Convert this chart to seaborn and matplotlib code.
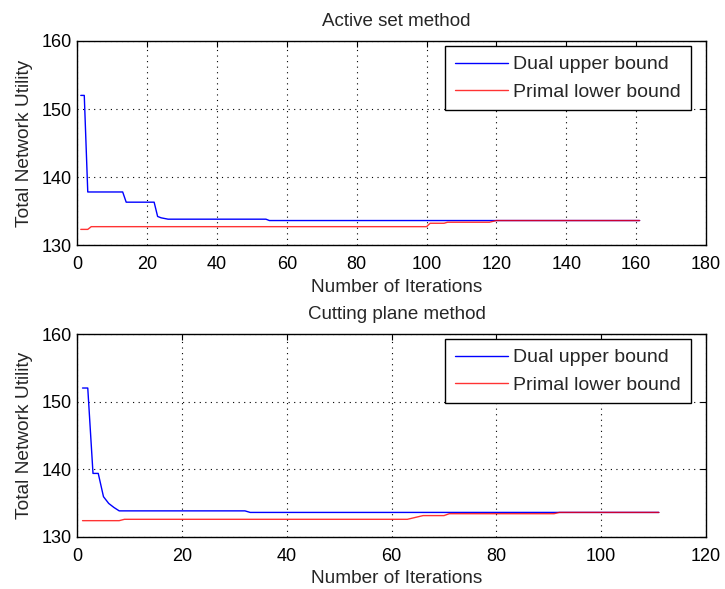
import matplotlib
matplotlib.use("Agg")
import matplotlib.pyplot as plt
import seaborn as sns

# ---------------- data (vertices of the curves) ----------------
as_dual_x = [1, 2, 3, 13, 14, 22, 23, 24, 26, 54, 55, 161]
as_dual_y = [152, 152, 137.8, 137.8, 136.3, 136.3, 134.2, 134.0, 133.8, 133.8, 133.6, 133.6]
as_primal_x = [1, 3, 4, 100, 101, 105, 106, 118, 120, 161]
as_primal_y = [132.3, 132.3, 132.7, 132.7, 133.2, 133.2, 133.35, 133.35, 133.6, 133.6]

cp_dual_x = [1, 2, 3, 4, 5, 6, 7, 8, 32, 33, 111]
cp_dual_y = [152, 152, 139.35, 139.35, 135.9, 134.9, 134.3, 133.8, 133.8, 133.57, 133.57]
cp_primal_x = [1, 8, 9, 63, 66, 70, 71, 91, 92, 111]
cp_primal_y = [132.35, 132.35, 132.55, 132.55, 133.1, 133.1, 133.38, 133.38, 133.57, 133.57]

titles = ["Active set method", "Cutting plane method"]
labels = ["Dual upper bound", "Primal lower bound"]
xlims = [(0, 180), (0, 120)]
xticks = [list(range(0, 181, 20)), list(range(0, 121, 20))]
yticks = [130, 140, 150, 160]
xlabel = "Number of Iterations"
ylabel = "Total Network Utility"

# ---------------- style ----------------
sns.set_style("white")
plt.rcParams['font.family'] = ['Liberation Sans', 'DejaVu Sans']
FS = 13

fig = plt.figure(figsize=(7.25, 5.89), dpi=100)
ax1 = fig.add_axes([0.1066, 0.584, 0.9738 - 0.1066, 0.9304 - 0.584])
ax2 = fig.add_axes([0.1066, 0.0891, 0.9738 - 0.1066, 0.4329 - 0.0891])

series = [
    (ax1, as_dual_x, as_dual_y, as_primal_x, as_primal_y),
    (ax2, cp_dual_x, cp_dual_y, cp_primal_x, cp_primal_y),
]

for i, (ax, dx, dy, px, py) in enumerate(series):
    sns.lineplot(x=dx, y=dy, ax=ax, color="#0000ff", linewidth=1.0,
                 label=labels[0], sort=False, estimator=None)
    sns.lineplot(x=px, y=py, ax=ax, color="#ff0000", linewidth=1.0,
                 label=labels[1], sort=False, estimator=None, alpha=0.8)
    ax.set_xlim(*xlims[i])
    ax.set_ylim(130, 160)
    ax.set_xticks(xticks[i])
    ax.set_yticks(yticks)
    ax.grid(True, color="black", linestyle=(0, (1, 4)), linewidth=0.8)
    ax.tick_params(direction="in", top=True, right=True, length=4,
                   width=0.8, labelsize=FS, colors="black")
    ax.tick_params(axis="x", pad=8)
    ax.tick_params(axis="y", pad=4)
    for s in ax.spines.values():
        s.set_color("black")
        s.set_linewidth(1.0)
        s.set_visible(True)
    t = ax.set_title(titles[i], fontsize=13.5, pad=10.5)
    t.set_x(0.508)
    ax.set_xlabel(xlabel, fontsize=13.7, labelpad=4)
    ax.xaxis.label.set_x(0.508)
    ax.set_ylabel(ylabel, fontsize=13.8, labelpad=6)
    leg = ax.legend(loc="upper right", bbox_to_anchor=(0.976, 0.9755),
                    borderaxespad=0, fontsize=14, frameon=True,
                    fancybox=False, handlelength=2.7, handletextpad=0.3,
                    borderpad=0.5, labelspacing=0.5)
    leg.get_frame().set_edgecolor("black")
    leg.get_frame().set_linewidth(1.0)
    leg.get_frame().set_alpha(1)

fig.savefig("out.png", dpi=100)
